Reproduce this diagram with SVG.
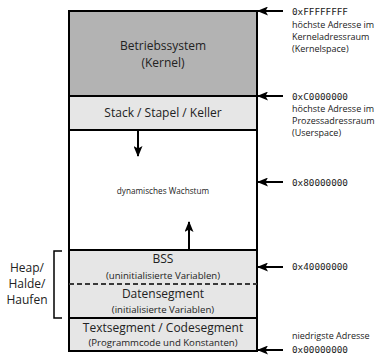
<svg xmlns="http://www.w3.org/2000/svg" width="380" height="355" viewBox="0 0 380 355">
<defs>
<marker id="ah" markerWidth="11" markerHeight="9" refX="10" refY="4.5" orient="auto" markerUnits="userSpaceOnUse">
<path d="M0,0 L11,4.5 L0,9 L2.5,4.5 Z" fill="#000"/>
</marker>
<style>
.box{stroke:#000;stroke-width:2}
.t{font-family:"Open Sans","Noto Sans",sans-serif;fill:#222;text-anchor:middle}
.big{font-size:12px}
.sm{font-size:9.6px}
.dyn{font-size:8.2px}
.r{font-family:"Open Sans","Noto Sans",sans-serif;font-size:9px;fill:#222}
.m{font-family:"DejaVu Sans Mono",monospace;font-size:9.3px;fill:#222}
.c{stroke:#000;stroke-width:2;fill:none;marker-end:url(#ah)}
</style>
</defs>
<g id="kernel"><rect class="box" x="69" y="11" width="188" height="85" fill="#b3b3b3"/>
<text class="t big" x="163" y="50">Betriebssystem</text><text class="t big" x="163" y="66.5">(Kernel)</text></g>
<g id="stack"><rect class="box" x="69" y="96" width="188" height="34" fill="#e6e6e6"/>
<text class="t big" x="163" y="117">Stack / Stapel / Keller</text></g>
<g id="free"><rect class="box" x="69" y="130" width="188" height="120" fill="#fff"/>
<text class="t dyn" x="163" y="194">dynamisches Wachstum</text></g>
<g id="bss"><rect class="box" x="69" y="250" width="188" height="34" fill="#e6e6e6"/>
<text class="t big" x="163" y="263">BSS</text><text class="t sm" x="163" y="279">(uninitialisierte Variablen)</text></g>
<g id="data"><rect class="box" x="69" y="284" width="188" height="34" fill="#e6e6e6"/>
<line x1="69" y1="284" x2="257" y2="284" stroke="#e6e6e6" stroke-width="2.2"/>
<line x1="69" y1="284" x2="257" y2="284" stroke="#000" stroke-width="1.6" stroke-dasharray="5,3"/>
<text class="t big" x="163" y="298">Datensegment</text><text class="t sm" x="163" y="313">(initialisierte Variablen)</text></g>
<g id="text"><rect class="box" x="69" y="318" width="188" height="33" fill="#e6e6e6"/>
<text class="t big" x="163" y="332">Textsegment / Codesegment</text><text class="t sm" x="163" y="346">(Programmcode und Konstanten)</text></g>
<g id="heap"><path d="M62,251 H54 V318 H62" stroke="#000" stroke-width="1.5" fill="none"/>
<text class="t big" x="27" y="272">Heap/</text><text class="t big" x="27" y="288">Halde/</text><text class="t big" x="27" y="304">Haufen</text></g>
<g id="labels">
<text class="m" x="292" y="15">0xFFFFFFFF</text>
<text class="r" x="292" y="28">höchste Adresse im</text>
<text class="r" x="292" y="40">Kerneladressraum</text>
<text class="r" x="292" y="52">(Kernelspace)</text>
<text class="m" x="292" y="100">0xC0000000</text>
<text class="r" x="292" y="112">höchste Adresse im</text>
<text class="r" x="292" y="124">Prozessadressraum</text>
<text class="r" x="292" y="136">(Userspace)</text>
<text class="m" x="292" y="186">0x80000000</text>
<text class="m" x="292" y="270">0x40000000</text>
<text class="r" x="292" y="339">niedrigste Adresse</text>
<text class="m" x="292" y="353">0x00000000</text>
</g>
<g id="connectors">
<line class="c" x1="138" y1="131" x2="138" y2="156"/>
<line class="c" x1="189" y1="249" x2="189" y2="222"/>
<line class="c" x1="283" y1="11" x2="258" y2="11"/>
<line class="c" x1="283" y1="96" x2="258" y2="96"/>
<line class="c" x1="283" y1="182" x2="258" y2="182"/>
<line class="c" x1="283" y1="267" x2="258" y2="267"/>
<line class="c" x1="283" y1="350" x2="258" y2="350"/>
</g>
</svg>
